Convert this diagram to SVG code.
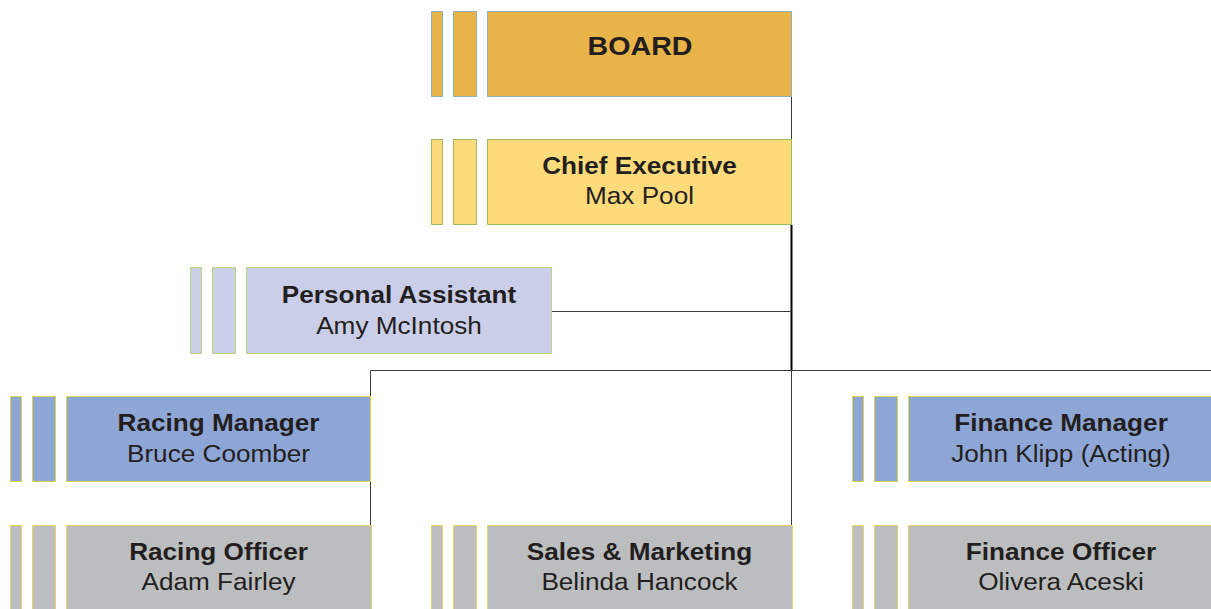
<svg xmlns="http://www.w3.org/2000/svg" width="1211" height="609" viewBox="0 0 1211 609">
<style>
.t{font-family:"Liberation Sans",Arial,sans-serif;font-size:24px;fill:#231f20;text-anchor:middle}
.b{font-weight:bold}
.board rect{fill:#E8B449;stroke:#8FB0B8;stroke-width:1}
.ceo rect{fill:#FDDA7A;stroke:#9CBB5C;stroke-width:1}
.pa rect{fill:#CBCEE8;stroke:#BCD879;stroke-width:1}
.mgr rect{fill:#8EA6D6;stroke:#E0D24A;stroke-width:1}
.off rect{fill:#BCBDBF;stroke:#E3D66A;stroke-width:1}
.c{fill:none;stroke:#3a3a3a;stroke-width:1}
</style>
<rect width="1211" height="609" fill="#fff"/>
<g id="connectors">
<line class="c" x1="791.5" y1="96" x2="791.5" y2="139" stroke="#777"/>
<line class="c" x1="791.5" y1="225" x2="791.5" y2="371" style="stroke:#000;stroke-width:2"/>
<line class="c" x1="552" y1="311.5" x2="791.5" y2="311.5"/>
<line class="c" x1="791.5" y1="371" x2="791.5" y2="525"/>
<polyline class="c" points="370.5,396 370.5,370.5 1211,370.5"/>
<line class="c" x1="370.5" y1="482" x2="370.5" y2="525"/>
</g>
<g id="board" class="board">
<rect x="431.5" y="11.5" width="11" height="85"/>
<rect x="453.5" y="11.5" width="23" height="85"/>
<rect x="487.5" y="11.5" width="304" height="85"/>
<text class="t b" transform="translate(640,55) scale(1.1,1)" style="font-size:26px">BOARD</text>
</g>
<g id="chief" class="ceo">
<rect x="431.5" y="139.5" width="11" height="85"/>
<rect x="453.5" y="139.5" width="23" height="85"/>
<rect x="487.5" y="139.5" width="304" height="85"/>
<text class="t b" transform="translate(639.5,174) scale(1.09,1)">Chief Executive</text>
<text class="t" transform="translate(639.5,204) scale(1.09,1)">Max Pool</text>
</g>
<g id="pa" class="pa">
<rect x="190.5" y="267.5" width="11" height="86"/>
<rect x="212.5" y="267.5" width="23" height="86"/>
<rect x="246.5" y="267.5" width="305" height="86"/>
<text class="t b" transform="translate(399,303) scale(1.09,1)">Personal Assistant</text>
<text class="t" transform="translate(399,334) scale(1.09,1)">Amy McIntosh</text>
</g>
<g id="racing-manager" class="mgr">
<rect x="10.5" y="396.5" width="11" height="85"/>
<rect x="32.5" y="396.5" width="23" height="85"/>
<rect x="66.5" y="396.5" width="304" height="85"/>
<text class="t b" transform="translate(218.5,431) scale(1.09,1)">Racing Manager</text>
<text class="t" transform="translate(218.5,462) scale(1.09,1)">Bruce Coomber</text>
</g>
<g id="finance-manager" class="mgr">
<rect x="852.5" y="396.5" width="11" height="85"/>
<rect x="874.5" y="396.5" width="23" height="85"/>
<rect x="908.5" y="396.5" width="305" height="85"/>
<text class="t b" transform="translate(1061,431) scale(1.09,1)">Finance Manager</text>
<text class="t" transform="translate(1061,462) scale(1.09,1)">John Klipp (Acting)</text>
</g>
<g id="racing-officer" class="off">
<rect x="10.5" y="525.5" width="11" height="86"/>
<rect x="32.5" y="525.5" width="23" height="86"/>
<rect x="66.5" y="525.5" width="305" height="86"/>
<text class="t b" transform="translate(218.5,560) scale(1.09,1)">Racing Officer</text>
<text class="t" transform="translate(218.5,590) scale(1.09,1)">Adam Fairley</text>
</g>
<g id="sales" class="off">
<rect x="431.5" y="525.5" width="11" height="86"/>
<rect x="453.5" y="525.5" width="23" height="86"/>
<rect x="487.5" y="525.5" width="305" height="86"/>
<text class="t b" transform="translate(639.5,560) scale(1.09,1)">Sales &amp; Marketing</text>
<text class="t" transform="translate(639.5,590) scale(1.09,1)">Belinda Hancock</text>
</g>
<g id="finance-officer" class="off">
<rect x="852.5" y="525.5" width="11" height="86"/>
<rect x="874.5" y="525.5" width="23" height="86"/>
<rect x="908.5" y="525.5" width="305" height="86"/>
<text class="t b" transform="translate(1061,560) scale(1.09,1)">Finance Officer</text>
<text class="t" transform="translate(1061,590) scale(1.09,1)">Olivera Aceski</text>
</g>
</svg>
